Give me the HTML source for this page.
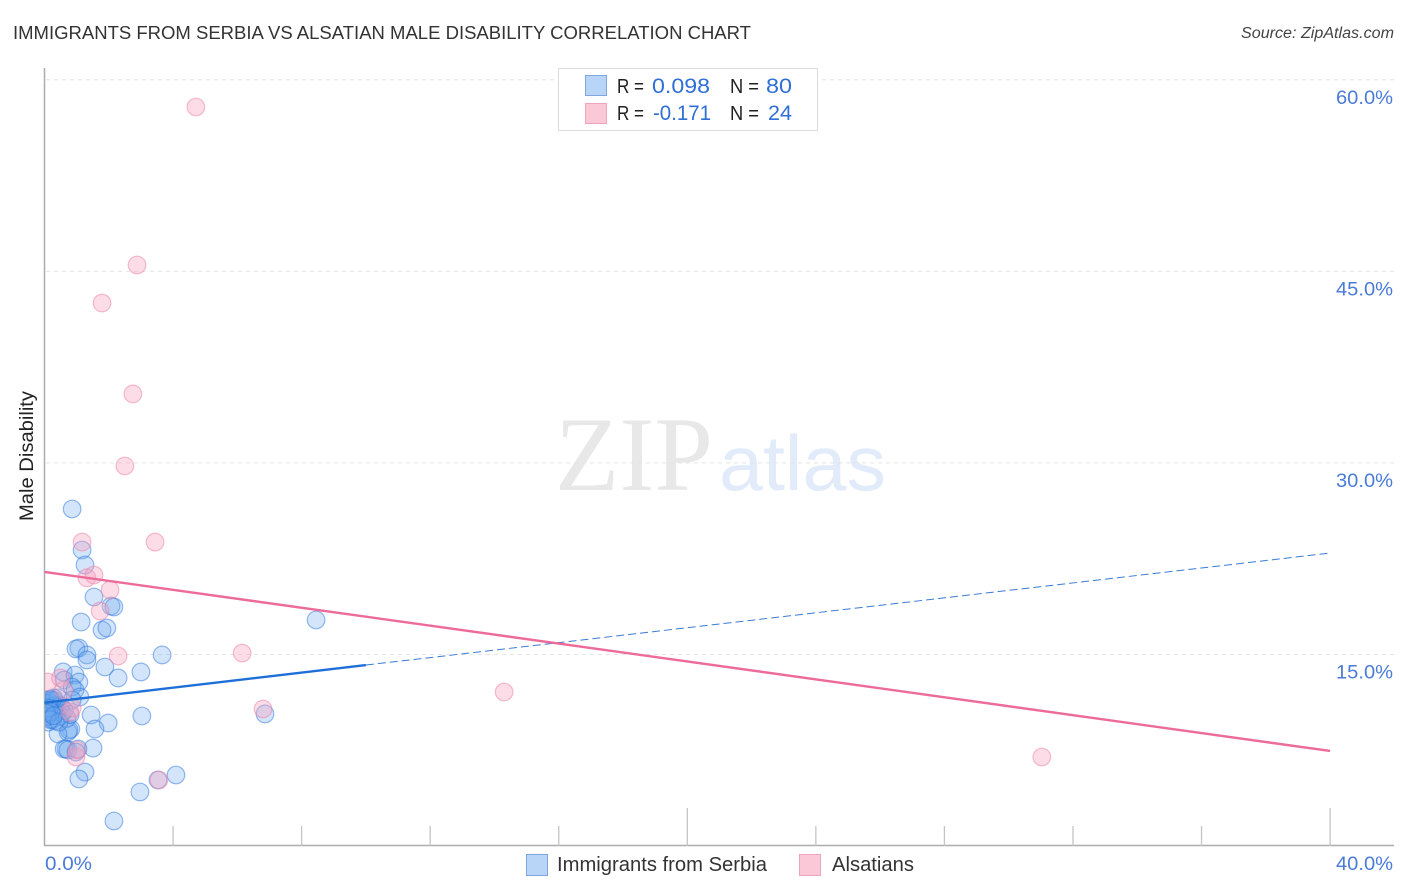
<!DOCTYPE html>
<html>
<head>
<meta charset="utf-8">
<title>Immigrants from Serbia vs Alsatian Male Disability Correlation Chart</title>
<style>
html,body{margin:0;padding:0;background:#fff;width:1406px;height:892px;overflow:hidden}
svg{display:block}
text{font-family:"Liberation Sans",sans-serif}
</style>
</head>
<body>
<svg id="chart" width="1406" height="892" viewBox="0 0 1406 892" xmlns="http://www.w3.org/2000/svg">
  <defs>
    <clipPath id="plot-clip"><rect x="45" y="60" width="1349" height="786"></rect></clipPath>
  </defs>
  <text x="13" y="39" font-size="18.5" fill="#333" textLength="738" lengthAdjust="spacingAndGlyphs">IMMIGRANTS FROM SERBIA VS ALSATIAN MALE DISABILITY CORRELATION CHART</text>
  <text x="1241" y="38" font-size="15.5" font-style="italic" fill="#444" textLength="153" lengthAdjust="spacingAndGlyphs">Source: ZipAtlas.com</text>

  <g>
    <text x="555" y="490" font-size="106" fill="#e8e8e8" textLength="158" lengthAdjust="spacingAndGlyphs" style="font-family:'Liberation Serif',serif">ZIP</text>
    <text x="719" y="490" font-size="78" fill="#e2ebf9" textLength="167" lengthAdjust="spacingAndGlyphs">atlas</text>
  </g>

  <g id="grid"></g>
  <g id="axes"></g>
  <g id="blue-points" clip-path="url(#plot-clip)"></g>
  <g id="pink-points" clip-path="url(#plot-clip)"></g>
  <g id="trends"></g>

  <text transform="translate(33,456) rotate(-90)" text-anchor="middle" font-size="19" fill="#222" textLength="130" lengthAdjust="spacingAndGlyphs">Male Disability</text>

  <g>
    <rect x="558.5" y="68.5" width="259" height="62" fill="#fff" stroke="#dcdcdc" stroke-width="1"></rect>
    <rect x="585.5" y="75.5" width="21" height="20" fill="#b8d4f7" stroke="#7fa6dd" stroke-width="1"></rect>
    <rect x="585.5" y="103.5" width="21" height="20" fill="#fbc8d8" stroke="#f0a3bd" stroke-width="1"></rect>
    <text x="617" y="93" font-size="20" fill="#222" textLength="27" lengthAdjust="spacingAndGlyphs">R =</text>
    <text x="652" y="93" font-size="21.5" fill="#2f6fd6" textLength="58" lengthAdjust="spacingAndGlyphs">0.098</text>
    <text x="730" y="93" font-size="20" fill="#222" textLength="29" lengthAdjust="spacingAndGlyphs">N =</text>
    <text x="766" y="93" font-size="21.5" fill="#2f6fd6" textLength="26" lengthAdjust="spacingAndGlyphs">80</text>
    <text x="617" y="120" font-size="20" fill="#222" textLength="27" lengthAdjust="spacingAndGlyphs">R =</text>
    <text x="653" y="120" font-size="21.5" fill="#2f6fd6" textLength="58" lengthAdjust="spacingAndGlyphs">-0.171</text>
    <text x="730" y="120" font-size="20" fill="#222" textLength="29" lengthAdjust="spacingAndGlyphs">N =</text>
    <text x="768" y="120" font-size="21.5" fill="#2f6fd6" textLength="24" lengthAdjust="spacingAndGlyphs">24</text>
  </g>

  <g>
    <rect x="526.5" y="854.5" width="21" height="21" fill="#b8d4f7" stroke="#7fa6dd" stroke-width="1"></rect>
    <text x="557" y="871" font-size="20" fill="#333" textLength="210" lengthAdjust="spacingAndGlyphs">Immigrants from Serbia</text>
    <rect x="799.5" y="854.5" width="21" height="21" fill="#fbc8d8" stroke="#f0a3bd" stroke-width="1"></rect>
    <text x="832" y="871" font-size="20" fill="#333" textLength="82" lengthAdjust="spacingAndGlyphs">Alsatians</text>
  </g>
</svg>
<script>
// Chart data, in percent
const serbiaX = [0.86,1.17,1.26,1.54,2.07,2.16,1.14,1.79,1.94,1.07,0.98,1.32,1.32,3.66,3.0,1.88,2.29,0.58,0.61,0.95,1.07,8.45,0.86,0.95,1.1,0.86,3.03,6.86,1.98,1.45,1.57,0.82,0.73,0.76,0.42,0.67,0.61,0.73,1.51,1.04,0.98,1.26,1.07,4.09,3.53,2.97,2.16,0.1,0.14,0.2,0.08,0.12,0.18,0.25,0.3,0.34,0.4,0.5,0.55,0.62,0.7,0.25,0.34,0.23,0.1,0.05,0.12,0.5,0.42,0.28,0.17,0.03,0.08,0.14,0.2,0.07,0.18,0.8,0.45,0.28];
const serbiaY = [26.39,23.18,22.0,19.5,18.79,18.72,17.54,16.91,17.07,15.5,15.43,14.96,14.57,14.96,13.63,14.02,13.16,13.63,13.0,13.39,12.84,17.7,12.45,12.22,11.67,11.43,10.18,10.34,9.63,10.26,9.16,9.16,8.93,9.08,8.77,7.6,7.6,7.52,7.67,7.6,7.36,5.79,5.25,5.56,5.17,4.23,1.96,11.4,11.0,11.2,10.9,10.6,10.4,10.8,11.4,11.0,10.5,10.2,10.4,10.6,10.0,9.9,9.8,11.4,10.2,11.2,9.7,11.0,11.6,11.6,11.5,10.7,10.1,10.8,10.5,10.4,9.9,10.3,9.7,10.2];
const alsatianX = [4.71,2.88,1.79,2.75,2.5,1.17,3.44,1.32,1.54,2.04,1.73,2.29,6.15,6.8,14.3,31.03,3.56,0.98,1.01,0.1,0.5,0.6,0.79,0.86];
const alsatianY = [57.87,45.5,42.52,35.4,29.76,23.8,23.8,21.0,21.22,20.05,18.4,14.88,15.11,10.73,12.06,6.97,5.17,6.97,7.52,12.84,13.16,12.2,10.49,10.81];
const serbiaTrendX = [0,10,40];
const serbiaTrendY = [11.22,14.17,22.94];
const alsatianTrendX = [0,40];
const alsatianTrendY = [21.46,7.44];
const yTicks = [15,30,45,60];
const xTicks = [4,8,12,16,20,24,28,32,36,40];
const xMajorTicks = [20,40];
const xEndLabels = [0,40];

const NS = 'http://www.w3.org/2000/svg';
function xScale(v){ return 44.5 + v * 32.14; }
function yScale(v){ return 846 - v * 12.77; }
function make(tag, parent, attrs){
  const el = document.createElementNS(NS, tag);
  for (const k in attrs) el.setAttribute(k, attrs[k]);
  parent.appendChild(el);
  return el;
}
const grid = document.getElementById('grid');
const axes = document.getElementById('axes');
const bluePts = document.getElementById('blue-points');
const pinkPts = document.getElementById('pink-points');
const trends = document.getElementById('trends');

yTicks.forEach(function(t){
  const line = make('line', grid, {x1:46, x2:1394, y1:yScale(t), y2:yScale(t), stroke:'#e4e4e4', 'stroke-width':1, 'stroke-dasharray':'4 4'});
  
  
  const lab = make('text', axes, {x:1336, y:yScale(t)+24, 'font-size':19.5, fill:'#4a7bd8', textLength:57, lengthAdjust:'spacingAndGlyphs'});
  lab.textContent = t.toFixed(1) + '%';
  
  
});

const yAxis = make('line', axes, {x1:44.5, x2:44.5, y1:68, y2:846, stroke:'#adadad', 'stroke-width':1.5});


const xAxis = make('line', axes, {x1:44, x2:1394, y1:845.5, y2:845.5, stroke:'#adadad', 'stroke-width':1.5});



xTicks.forEach(function(t){
  const top = xMajorTicks.indexOf(t) >= 0 ? 808 : 826;
  const tick = make('line', axes, {x1:xScale(t), x2:xScale(t), y1:top, y2:846, stroke:'#c4c4c4', 'stroke-width':1.3});
  
  
});
xEndLabels.forEach(function(t, i){
  const lab = make('text', axes, {x: i === 0 ? 45 : 1336, y:870, 'font-size':19.5, fill:'#4a7bd8', textLength: i === 0 ? 47 : 57, lengthAdjust:'spacingAndGlyphs'});
  lab.textContent = t.toFixed(1) + '%';
  
  
});

serbiaX.forEach(function(v, i){
  const c = make('circle', bluePts, {cx:xScale(v), cy:yScale(serbiaY[i]), r:8.8, fill:'#6ea8ee', 'fill-opacity':0.3, stroke:'#2f78dc', 'stroke-opacity':0.5, 'stroke-width':1.2});
  
  
});
alsatianX.forEach(function(v, i){
  const c = make('circle', pinkPts, {cx:xScale(v), cy:yScale(alsatianY[i]), r:8.8, fill:'#f4a3bf', 'fill-opacity':0.38, stroke:'#ec7fa5', 'stroke-opacity':0.5, 'stroke-width':1.2});
  
  
});

const serbiaSolid = make('line', trends, {x1:xScale(serbiaTrendX[0]), y1:yScale(serbiaTrendY[0]), x2:xScale(serbiaTrendX[1]), y2:yScale(serbiaTrendY[1]), stroke:'#1f6fd8', 'stroke-width':2.4});


const serbiaDash = make('line', trends, {x1:xScale(serbiaTrendX[1]), y1:yScale(serbiaTrendY[1]), x2:xScale(serbiaTrendX[2]), y2:yScale(serbiaTrendY[2]), stroke:'#3a7bd5', 'stroke-width':1, 'stroke-dasharray':'8 4'});


const alsatianLine = make('line', trends, {x1:xScale(alsatianTrendX[0]), y1:yScale(alsatianTrendY[0]), x2:xScale(alsatianTrendX[1]), y2:yScale(alsatianTrendY[1]), stroke:'#ec6b9a', 'stroke-width':2.4});


</script>
</body>
</html>
